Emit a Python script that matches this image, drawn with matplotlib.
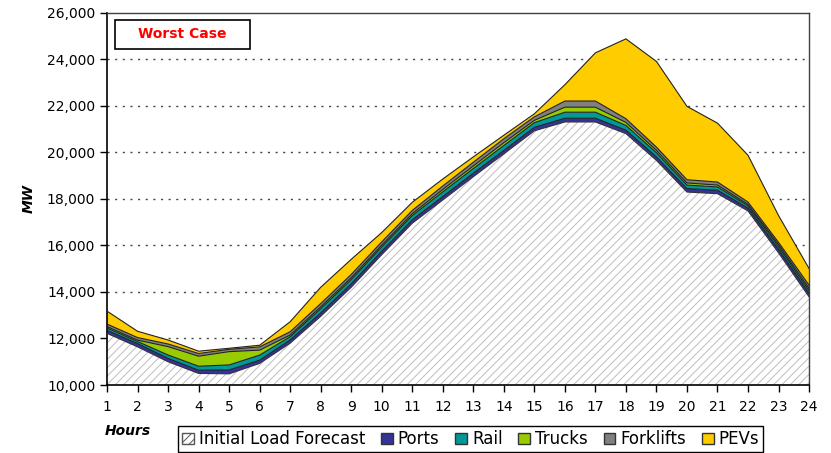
import matplotlib
matplotlib.use('Agg')
import matplotlib.pyplot as plt
from matplotlib.patches import Patch, Rectangle
import numpy as np

hours = list(range(1, 25))

# MW per hour
initial_load = [12220, 11640, 11000, 10500, 10480, 10930, 11800, 12950,
                14200, 15600, 16950, 17950, 18950, 19930, 20920, 21300,
                21300, 20800, 19650, 18290, 18220, 17480, 15680, 13790]
ports = [130, 140, 145, 140, 170, 140, 140, 150, 150, 150, 150, 150,
         150, 150, 150, 160, 160, 150, 150, 150, 150, 120, 150, 150]
rail = [100, 90, 145, 170, 215, 215, 140, 180, 180, 180, 180, 200,
        200, 210, 200, 260, 260, 200, 180, 150, 140, 100, 120, 120]
trucks = [60, 60, 360, 430, 570, 215, 70, 80, 80, 80, 80, 100,
          110, 120, 100, 215, 215, 130, 100, 90, 80, 60, 80, 90]
forklifts = [110, 110, 115, 115, 100, 140, 140, 140, 140, 140, 140, 150,
             160, 170, 150, 265, 265, 160, 140, 140, 130, 100, 100, 140]
pevs = [555, 270, 170, 100, 45, 70, 430, 700, 650, 400, 350, 300,
        230, 150, 130, 700, 2070, 3430, 3680, 3150, 2530, 2010, 1150, 716]

layer_names = ['Ports', 'Rail', 'Trucks', 'Forklifts', 'PEVs']
layer_colors = ['#333399', '#009999', '#99cc00', '#808080', '#ffcc00']

plt.rcParams['hatch.linewidth'] = 0.7

fig = plt.figure(figsize=(8.31, 4.53), dpi=100)
ax = fig.add_axes([0.1288, 0.150, 0.8448, 0.8223])

# base load, hatched
base = np.array(initial_load, dtype=float)
ax.fill_between(hours, 10000, base, facecolor='white', edgecolor='#bdbdbd',
                hatch='////', linewidth=0, zorder=2)
ax.plot(hours, base, color='#333333', lw=0.8, zorder=3)

# stacked layers on top
bottom = base
for vals, color in zip([ports, rail, trucks, forklifts, pevs], layer_colors):
    top = bottom + np.array(vals, dtype=float)
    ax.fill_between(hours, bottom, top, facecolor=color, edgecolor='none', zorder=2)
    ax.plot(hours, top, color='#222222', lw=0.8, zorder=3)
    bottom = top

ax.set_xlim(1, 24)
ax.set_ylim(10000, 26000)
ax.set_xticks(hours)
ax.set_yticks(range(10000, 26001, 2000))
ax.set_yticklabels([f'{v:,}' for v in range(10000, 26001, 2000)])
ax.tick_params(axis='both', direction='out', length=5, width=1, labelsize=10,
               colors='black')
ax.tick_params(axis='x', pad=6)

for y in range(12000, 26000, 2000):
    ax.axhline(y, color='#444444', lw=1.0, dashes=(1.5, 4), zorder=1)

for side in ['left', 'bottom']:
    ax.spines[side].set_color('black')
    ax.spines[side].set_linewidth(1.2)
for side in ['top', 'right']:
    ax.spines[side].set_color('#404040')
    ax.spines[side].set_linewidth(1.0)

ax.set_ylabel('MW', fontsize=10, fontweight='bold', fontstyle='italic', labelpad=8)
fig.text(105 / 831, 1 - 431 / 453, 'Hours', fontsize=10, fontweight='bold',
         fontstyle='italic', va='center', ha='left')

# "Worst Case" box
ax.add_patch(Rectangle((8 / 702, (385 - 48) / 373), 135 / 702, 29 / 373,
                       transform=ax.transAxes, facecolor='white',
                       edgecolor='black', lw=1.2, zorder=5))
ax.text((8 + 67.5) / 702, (385 - 33.5) / 373, 'Worst Case', transform=ax.transAxes,
        color='red', fontsize=10, fontweight='bold', ha='center', va='center',
        zorder=6)

handles = [Patch(facecolor='white', edgecolor='#555555', hatch='////',
                 label='Initial Load Forecast')]
for name, color in zip(layer_names, layer_colors):
    handles.append(Patch(facecolor=color, edgecolor='#333333', label=name))
fig.legend(handles=handles, loc='upper left',
           bbox_to_anchor=(178 / 831, 1 - 426 / 453), ncol=6, fontsize=12,
           frameon=True, fancybox=False, edgecolor='black', framealpha=1,
           handlelength=0.7, handleheight=0.7, handletextpad=0.3,
           columnspacing=0.95, borderpad=0.25, borderaxespad=0)

fig.savefig('out.png', dpi=100)
